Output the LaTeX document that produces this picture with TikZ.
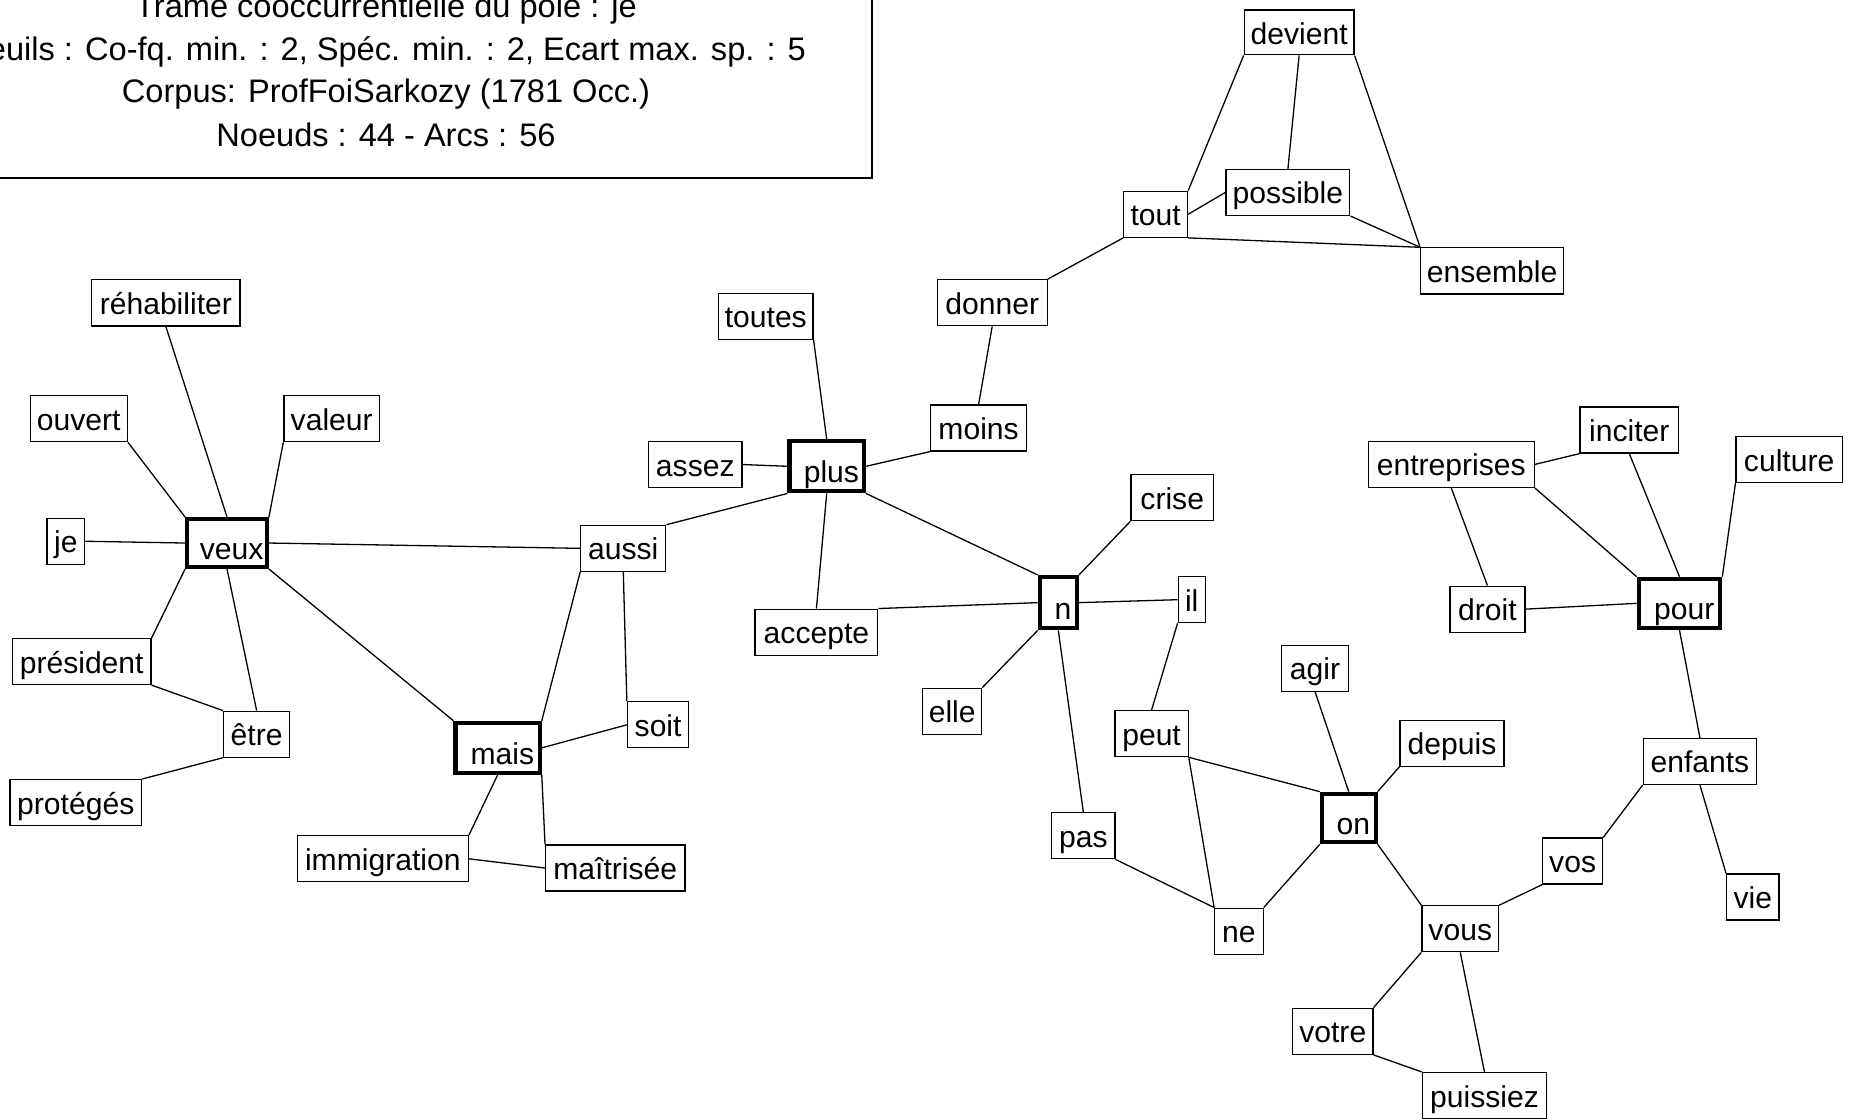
\documentclass[tikz,border=0pt]{standalone}
\usepackage{fontspec}
\setmainfont{Liberation Sans}
\tikzset{
  wbox/.style={draw, line width=1pt, fill=white, inner sep=0pt, minimum height=39pt,
    text height=22.6pt, text depth=3pt, font=\fontsize{25.5}{30}\selectfont},
  pole/.style={wbox, line width=3.5pt, text height=31pt, text depth=3pt},
  edge/.style={line width=1.1pt},
  ttl/.style={anchor=base, inner sep=0pt, font=\fontsize{27.6}{33}\selectfont}
}
\newcommand\polepad{\hspace*{8pt}}
\begin{document}
\begin{tikzpicture}[x=1pt,y=-1pt]
\useasboundingbox (0,0) rectangle (1568,948);
\fill[white] (0,0) rectangle (1568,948);
\clip (0,0) rectangle (1568,948);

% title block
\node[draw, line width=1.6pt, minimum width=759pt, minimum height=170.5pt, inner sep=0pt] (titlebox) at (359.5,65.25) {};
\node[ttl] (t1) at (327,14.5) {Trame cooccurrentielle du pôle : je};
\node[ttl] (t2) at (327,51.5) {Seuils : Co-fq. min. : 2, Spéc. min. : 2, Ecart max. sp. : 5};
\node[ttl] (t3) at (327,87) {Corpus: ProfFoiSarkozy (1781 Occ.)};
\node[ttl] (t4) at (327,124.3) {Noeuds : 44 - Arcs : 56};

% poles
\node[pole, minimum width=67.5pt, minimum height=40.5pt] (veux) at (192.3,460) {\polepad veux};
\node[pole, minimum width=63.1pt, minimum height=42.5pt] (plus) at (700.3,395) {\polepad plus};
\node[pole, minimum width=31.5pt, minimum height=43.5pt] (n) at (896.5,510.5) {\polepad n};
\node[pole, minimum width=71.4pt, minimum height=42.5pt] (mais) at (421.5,633.5) {\polepad mais};
\node[pole, minimum width=45.5pt, minimum height=41.1pt] (on) at (1142.5,692.9) {\polepad on};
\node[pole, minimum width=69.1pt, minimum height=41.7pt] (pour) at (1422.7,511.1) {\polepad pour};

% words
\node[wbox, minimum width=93pt, minimum height=38pt] (devient) at (1100.5,27.5) {devient};
\node[wbox, minimum width=54pt] (tout) at (979,181.5) {tout};
\node[wbox, minimum width=105pt] (possible) at (1091,163) {possible};
\node[wbox, minimum width=121pt] (ensemble) at (1264,229.5) {ensemble};
\node[wbox, minimum width=93pt] (donner) at (840.5,256.5) {donner};
\node[wbox, minimum width=80pt] (toutes) at (648.7,268) {toutes};
\node[wbox, minimum width=125.6pt] (rehab) at (140.5,256.6) {réhabiliter};
\node[wbox, minimum width=82.4pt] (ouvert) at (66.7,354.7) {ouvert};
\node[wbox, minimum width=81pt] (valeur) at (281,354.7) {valeur};
\node[wbox, minimum width=81pt] (moins) at (829,362.5) {moins};
\node[wbox, minimum width=79pt] (assez) at (589,393.5) {assez};
\node[wbox, minimum width=140.7pt] (entreprises) at (1229.4,393.4) {entreprises};
\node[wbox, minimum width=83.6pt] (inciter) at (1380.2,364.3) {inciter};
\node[wbox, minimum width=90pt] (culture) at (1515.6,389.3) {culture};
\node[wbox, minimum width=70pt] (crise) at (993,421.7) {crise};
\node[wbox, minimum width=32pt] (je) at (55.8,458.5) {je};
\node[wbox, minimum width=72pt] (aussi) at (528,464.5) {aussi};
\node[wbox, minimum width=23pt] (il) at (1009.5,508) {il};
\node[wbox, minimum width=104pt] (accepte) at (691.6,535.5) {accepte};
\node[wbox, minimum width=63.5pt] (droit) at (1260,516) {droit};
\node[wbox, minimum width=117.5pt] (pres) at (69.2,560.4) {président};
\node[wbox, minimum width=57pt] (agir) at (1114,566) {agir};
\node[wbox, minimum width=50pt] (elle) at (806.6,602.5) {elle};
\node[wbox, minimum width=52pt] (soit) at (557.5,614) {soit};
\node[wbox, minimum width=56.3pt] (etre) at (217.4,621.9) {être};
\node[wbox, minimum width=62pt] (peut) at (975.5,621.5) {peut};
\node[wbox, minimum width=88pt] (depuis) at (1230,629.5) {depuis};
\node[wbox, minimum width=96pt] (enfants) at (1440,645) {enfants};
\node[wbox, minimum width=111.5pt] (proteges) at (64.2,679.9) {protégés};
\node[wbox, minimum width=53.5pt] (pas) at (917.7,708) {pas};
\node[wbox, minimum width=144.8pt] (immig) at (324.3,727.5) {immigration};
\node[wbox, minimum width=118pt] (maitr) at (521.2,735.3) {maîtrisée};
\node[wbox, minimum width=50.8pt] (vos) at (1332.2,729.4) {vos};
\node[wbox, minimum width=44.3pt] (vie) at (1484.8,759.9) {vie};
\node[wbox, minimum width=41pt] (ne) at (1049.5,788.8) {ne};
\node[wbox, minimum width=65pt] (vous) at (1237,786.8) {vous};
\node[wbox, minimum width=68pt] (votre) at (1129,873.6) {votre};
\node[wbox, minimum width=105.4pt] (puissiez) at (1257.5,928) {puissiez};

% edges around veux
\draw[edge] (rehab.south) -- (veux.north);
\draw[edge] (ouvert.south east) -- (veux.north west);
\draw[edge] (valeur.south west) -- (veux.north east);
\draw[edge] (je.east) -- (veux.west);
\draw[edge] (veux.south west) -- (pres.north east);
\draw[edge] (veux.south) -- (etre.north);
\draw[edge] (veux.south east) -- (mais.north west);
\draw[edge] (veux.east) -- (aussi.west);
\draw[edge] (pres.south east) -- (etre.north west);
\draw[edge] (etre.south west) -- (proteges.north east);
% mais / aussi
\draw[edge] (mais.north east) -- (aussi.south west);
\draw[edge] (mais.east) -- (soit.west);
\draw[edge] (mais.south) -- (immig.north east);
\draw[edge] (mais.south east) -- (maitr.north west);
\draw[edge] (immig.east) -- (maitr.west);
\draw[edge] (aussi.south) -- (soit.north west);
\draw[edge] (aussi.north east) -- (plus.south west);
% plus
\draw[edge] (toutes.south east) -- (plus.north);
\draw[edge] (assez.east) -- (plus.west);
\draw[edge] (plus.east) -- (moins.south west);
\draw[edge] (plus.south) -- (accepte.north);
\draw[edge] (plus.south east) -- (n.north west);
\draw[edge] (moins.north) -- (donner.south);
\draw[edge] (donner.north east) -- (tout.south west);
% tout group
\draw[edge] (tout.north east) -- (devient.south west);
\draw[edge] (tout.east) -- (possible.west);
\draw[edge] (tout.south east) -- (ensemble.north west);
\draw[edge] (devient.south) -- (possible.north);
\draw[edge] (devient.south east) -- (ensemble.north west);
\draw[edge] (possible.south east) -- (ensemble.north west);
% n
\draw[edge] (n.north east) -- (crise.south west);
\draw[edge] (n.east) -- (il.west);
\draw[edge] (n.west) -- (accepte.north east);
\draw[edge] (n.south west) -- (elle.north east);
\draw[edge] (n.south) -- (pas.north);
\draw[edge] (il.south west) -- (peut.north);
\draw[edge] (peut.south east) -- (on.north west);
\draw[edge] (peut.south east) -- (ne.north west);
\draw[edge] (pas.south east) -- (ne.north west);
\draw[edge] (ne.north east) -- (on.south west);
% on
\draw[edge] (agir.south) -- (on.north);
\draw[edge] (on.north east) -- (depuis.south west);
\draw[edge] (on.south east) -- (vous.north west);
\draw[edge] (vous.south west) -- (votre.north east);
\draw[edge] (vous.south) -- (puissiez.north);
\draw[edge] (votre.south east) -- (puissiez.north west);
\draw[edge] (vous.north east) -- (vos.south west);
\draw[edge] (vos.north east) -- (enfants.south west);
\draw[edge] (enfants.south) -- (vie.north west);
\draw[edge] (enfants.north) -- (pour.south);
% pour
\draw[edge] (entreprises.south east) -- (pour.north west);
\draw[edge] (inciter.south) -- (pour.north);
\draw[edge] (culture.south west) -- (pour.north east);
\draw[edge] (droit.east) -- (pour.west);
\draw[edge] (entreprises.east) -- (inciter.south west);
\draw[edge] (entreprises.south) -- (droit.north);
\end{tikzpicture}
\end{document}
